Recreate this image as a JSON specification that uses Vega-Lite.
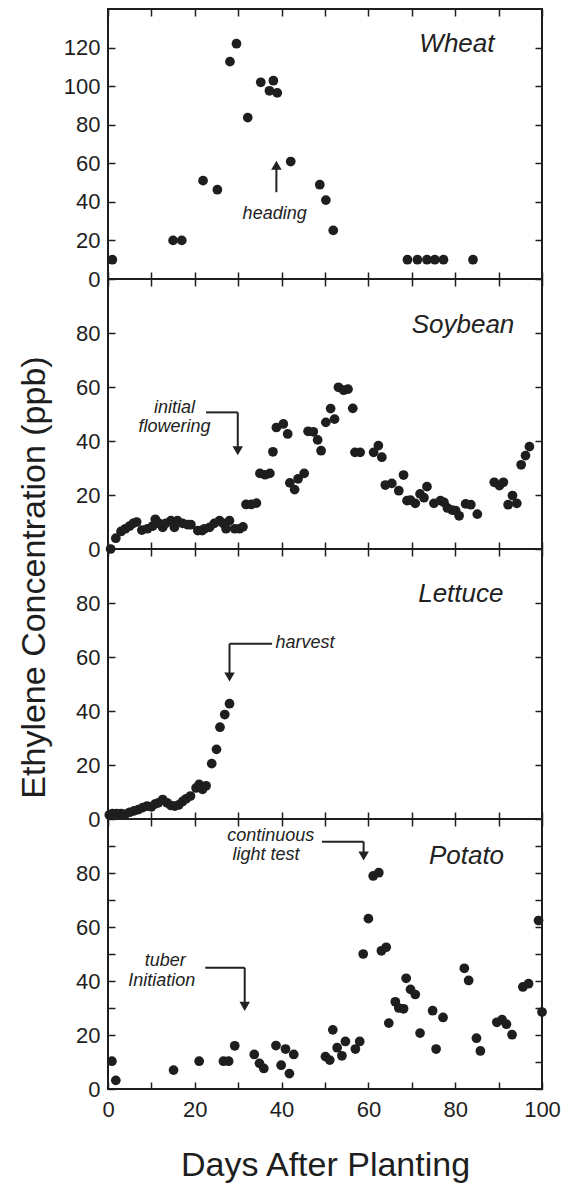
{
  "$schema": "https://vega.github.io/schema/vega-lite/v6.json",
  "background": "white",
  "padding": {"left": 15, "top": 7, "right": 5, "bottom": 5},
  "spacing": 0,
  "bounds": "flush",
  "datasets": {
    "pts": [
      {"crop": "Wheat", "day": 1, "ppb": 10}, {"crop": "Wheat", "day": 15, "ppb": 20}, {"crop": "Wheat", "day": 17, "ppb": 20},
      {"crop": "Wheat", "day": 21.9, "ppb": 51}, {"crop": "Wheat", "day": 25.2, "ppb": 46.3}, {"crop": "Wheat", "day": 28.1, "ppb": 112.7},
      {"crop": "Wheat", "day": 29.6, "ppb": 122}, {"crop": "Wheat", "day": 32.2, "ppb": 83.7}, {"crop": "Wheat", "day": 35.2, "ppb": 102},
      {"crop": "Wheat", "day": 37.2, "ppb": 97.6}, {"crop": "Wheat", "day": 38.1, "ppb": 102.8}, {"crop": "Wheat", "day": 39, "ppb": 96.5},
      {"crop": "Wheat", "day": 42.1, "ppb": 60.9}, {"crop": "Wheat", "day": 48.8, "ppb": 48.9}, {"crop": "Wheat", "day": 50.2, "ppb": 40.9},
      {"crop": "Wheat", "day": 51.9, "ppb": 25.2}, {"crop": "Wheat", "day": 69, "ppb": 10}, {"crop": "Wheat", "day": 71.3, "ppb": 10},
      {"crop": "Wheat", "day": 73.5, "ppb": 10}, {"crop": "Wheat", "day": 75.3, "ppb": 10}, {"crop": "Wheat", "day": 77.3, "ppb": 10},
      {"crop": "Wheat", "day": 84.1, "ppb": 10},
      {"crop": "Soybean", "day": 0.6, "ppb": 0}, {"crop": "Soybean", "day": 1.8, "ppb": 4}, {"crop": "Soybean", "day": 3.0, "ppb": 6.5},
      {"crop": "Soybean", "day": 4.0, "ppb": 7.5}, {"crop": "Soybean", "day": 5.0, "ppb": 8.5}, {"crop": "Soybean", "day": 5.8, "ppb": 9.5},
      {"crop": "Soybean", "day": 6.6, "ppb": 10}, {"crop": "Soybean", "day": 7.8, "ppb": 7}, {"crop": "Soybean", "day": 9.1, "ppb": 7.5},
      {"crop": "Soybean", "day": 10.3, "ppb": 8.5}, {"crop": "Soybean", "day": 10.9, "ppb": 11}, {"crop": "Soybean", "day": 11.8, "ppb": 9.5},
      {"crop": "Soybean", "day": 12.6, "ppb": 8}, {"crop": "Soybean", "day": 13.3, "ppb": 9.5}, {"crop": "Soybean", "day": 14.5, "ppb": 10.5},
      {"crop": "Soybean", "day": 15.3, "ppb": 8}, {"crop": "Soybean", "day": 16.0, "ppb": 10.5}, {"crop": "Soybean", "day": 17.2, "ppb": 9.5},
      {"crop": "Soybean", "day": 18.4, "ppb": 9}, {"crop": "Soybean", "day": 19.1, "ppb": 9}, {"crop": "Soybean", "day": 20.7, "ppb": 6.8},
      {"crop": "Soybean", "day": 21.7, "ppb": 6.8}, {"crop": "Soybean", "day": 22.2, "ppb": 7.5}, {"crop": "Soybean", "day": 23.4, "ppb": 8},
      {"crop": "Soybean", "day": 24.5, "ppb": 9.5}, {"crop": "Soybean", "day": 25.7, "ppb": 10.5}, {"crop": "Soybean", "day": 26.5, "ppb": 9.5},
      {"crop": "Soybean", "day": 27.2, "ppb": 7.5}, {"crop": "Soybean", "day": 28.0, "ppb": 10.5}, {"crop": "Soybean", "day": 29.2, "ppb": 7.5},
      {"crop": "Soybean", "day": 30.3, "ppb": 7.5}, {"crop": "Soybean", "day": 31.1, "ppb": 8.2}, {"crop": "Soybean", "day": 31.8, "ppb": 16.5},
      {"crop": "Soybean", "day": 33.0, "ppb": 16.5}, {"crop": "Soybean", "day": 34.2, "ppb": 17}, {"crop": "Soybean", "day": 35.0, "ppb": 28},
      {"crop": "Soybean", "day": 36.2, "ppb": 27.5}, {"crop": "Soybean", "day": 37.3, "ppb": 28}, {"crop": "Soybean", "day": 38.0, "ppb": 36},
      {"crop": "Soybean", "day": 38.8, "ppb": 45}, {"crop": "Soybean", "day": 40.4, "ppb": 46.3}, {"crop": "Soybean", "day": 41.4, "ppb": 42.6},
      {"crop": "Soybean", "day": 41.9, "ppb": 24.5}, {"crop": "Soybean", "day": 43.0, "ppb": 22}, {"crop": "Soybean", "day": 43.8, "ppb": 26},
      {"crop": "Soybean", "day": 45.2, "ppb": 28}, {"crop": "Soybean", "day": 46.1, "ppb": 43.6}, {"crop": "Soybean", "day": 47.3, "ppb": 43.4},
      {"crop": "Soybean", "day": 48.3, "ppb": 40.4}, {"crop": "Soybean", "day": 49.1, "ppb": 36.4}, {"crop": "Soybean", "day": 50.2, "ppb": 46.9},
      {"crop": "Soybean", "day": 51.3, "ppb": 52}, {"crop": "Soybean", "day": 52.2, "ppb": 48.1}, {"crop": "Soybean", "day": 53.1, "ppb": 59.9},
      {"crop": "Soybean", "day": 54.3, "ppb": 58.8}, {"crop": "Soybean", "day": 55.3, "ppb": 59.2}, {"crop": "Soybean", "day": 56.4, "ppb": 52.1},
      {"crop": "Soybean", "day": 56.9, "ppb": 35.8}, {"crop": "Soybean", "day": 58.1, "ppb": 35.8}, {"crop": "Soybean", "day": 61.2, "ppb": 35.8},
      {"crop": "Soybean", "day": 62.3, "ppb": 38.3}, {"crop": "Soybean", "day": 63.1, "ppb": 34}, {"crop": "Soybean", "day": 63.9, "ppb": 23.7},
      {"crop": "Soybean", "day": 65.4, "ppb": 24.3}, {"crop": "Soybean", "day": 67.0, "ppb": 21.6}, {"crop": "Soybean", "day": 68.1, "ppb": 27.4},
      {"crop": "Soybean", "day": 68.9, "ppb": 17.9}, {"crop": "Soybean", "day": 69.7, "ppb": 18.1}, {"crop": "Soybean", "day": 70.8, "ppb": 16.9},
      {"crop": "Soybean", "day": 71.9, "ppb": 20.4}, {"crop": "Soybean", "day": 72.8, "ppb": 19}, {"crop": "Soybean", "day": 73.5, "ppb": 23.1},
      {"crop": "Soybean", "day": 75.1, "ppb": 16.9}, {"crop": "Soybean", "day": 76.6, "ppb": 17.9}, {"crop": "Soybean", "day": 77.4, "ppb": 17.3},
      {"crop": "Soybean", "day": 78.2, "ppb": 15.2}, {"crop": "Soybean", "day": 79.3, "ppb": 14.4}, {"crop": "Soybean", "day": 80.1, "ppb": 14.2},
      {"crop": "Soybean", "day": 80.9, "ppb": 12.3}, {"crop": "Soybean", "day": 82.4, "ppb": 16.7}, {"crop": "Soybean", "day": 83.6, "ppb": 16.4},
      {"crop": "Soybean", "day": 85.1, "ppb": 12.9}, {"crop": "Soybean", "day": 89.0, "ppb": 24.7}, {"crop": "Soybean", "day": 90.2, "ppb": 23.5},
      {"crop": "Soybean", "day": 91.1, "ppb": 24.7}, {"crop": "Soybean", "day": 92.2, "ppb": 16.4}, {"crop": "Soybean", "day": 93.2, "ppb": 19.8},
      {"crop": "Soybean", "day": 94.2, "ppb": 16.9}, {"crop": "Soybean", "day": 95.2, "ppb": 31.2}, {"crop": "Soybean", "day": 96.2, "ppb": 34.6},
      {"crop": "Soybean", "day": 97.1, "ppb": 37.9},
      {"crop": "Lettuce", "day": 0.3, "ppb": 1.5}, {"crop": "Lettuce", "day": 1.0, "ppb": 2}, {"crop": "Lettuce", "day": 2.0, "ppb": 2},
      {"crop": "Lettuce", "day": 3.0, "ppb": 2}, {"crop": "Lettuce", "day": 4.0, "ppb": 1.8}, {"crop": "Lettuce", "day": 5.0, "ppb": 2.5},
      {"crop": "Lettuce", "day": 6.0, "ppb": 3}, {"crop": "Lettuce", "day": 7.0, "ppb": 3.5}, {"crop": "Lettuce", "day": 8.0, "ppb": 4.2},
      {"crop": "Lettuce", "day": 9.0, "ppb": 4.8}, {"crop": "Lettuce", "day": 10.0, "ppb": 4.5}, {"crop": "Lettuce", "day": 10.8, "ppb": 5.5},
      {"crop": "Lettuce", "day": 11.6, "ppb": 6}, {"crop": "Lettuce", "day": 12.6, "ppb": 7.2}, {"crop": "Lettuce", "day": 13.6, "ppb": 6},
      {"crop": "Lettuce", "day": 14.5, "ppb": 5}, {"crop": "Lettuce", "day": 15.4, "ppb": 4.8}, {"crop": "Lettuce", "day": 16.3, "ppb": 5.2},
      {"crop": "Lettuce", "day": 17.2, "ppb": 6.5}, {"crop": "Lettuce", "day": 18.0, "ppb": 7.5}, {"crop": "Lettuce", "day": 19.0, "ppb": 8.5},
      {"crop": "Lettuce", "day": 20.3, "ppb": 11.5}, {"crop": "Lettuce", "day": 21.0, "ppb": 12.8}, {"crop": "Lettuce", "day": 21.8, "ppb": 11},
      {"crop": "Lettuce", "day": 22.6, "ppb": 12.3}, {"crop": "Lettuce", "day": 23.9, "ppb": 20.5}, {"crop": "Lettuce", "day": 25.0, "ppb": 25.8},
      {"crop": "Lettuce", "day": 25.8, "ppb": 34}, {"crop": "Lettuce", "day": 26.9, "ppb": 38.7}, {"crop": "Lettuce", "day": 28.0, "ppb": 42.7},
      {"crop": "Potato", "day": 0.9, "ppb": 10.3}, {"crop": "Potato", "day": 1.8, "ppb": 3.2}, {"crop": "Potato", "day": 15.1, "ppb": 7},
      {"crop": "Potato", "day": 21, "ppb": 10.3}, {"crop": "Potato", "day": 26.6, "ppb": 10.3}, {"crop": "Potato", "day": 27.8, "ppb": 10.3},
      {"crop": "Potato", "day": 29.2, "ppb": 16}, {"crop": "Potato", "day": 33.7, "ppb": 12.8}, {"crop": "Potato", "day": 34.9, "ppb": 9.5},
      {"crop": "Potato", "day": 35.9, "ppb": 7.6}, {"crop": "Potato", "day": 38.7, "ppb": 16.1}, {"crop": "Potato", "day": 39.9, "ppb": 8.8},
      {"crop": "Potato", "day": 40.9, "ppb": 14.8}, {"crop": "Potato", "day": 41.8, "ppb": 5.7}, {"crop": "Potato", "day": 42.8, "ppb": 12.8},
      {"crop": "Potato", "day": 50.1, "ppb": 12}, {"crop": "Potato", "day": 51.1, "ppb": 10.7}, {"crop": "Potato", "day": 51.8, "ppb": 21.9},
      {"crop": "Potato", "day": 52.8, "ppb": 15.3}, {"crop": "Potato", "day": 53.9, "ppb": 12.3}, {"crop": "Potato", "day": 54.7, "ppb": 17.6},
      {"crop": "Potato", "day": 57, "ppb": 14.8}, {"crop": "Potato", "day": 58, "ppb": 17.6}, {"crop": "Potato", "day": 58.8, "ppb": 50},
      {"crop": "Potato", "day": 60, "ppb": 63.1}, {"crop": "Potato", "day": 61.1, "ppb": 78.9}, {"crop": "Potato", "day": 62.4, "ppb": 80.1},
      {"crop": "Potato", "day": 63, "ppb": 51.2}, {"crop": "Potato", "day": 64.1, "ppb": 52.5}, {"crop": "Potato", "day": 64.7, "ppb": 24.4},
      {"crop": "Potato", "day": 66.2, "ppb": 32.3}, {"crop": "Potato", "day": 67, "ppb": 30}, {"crop": "Potato", "day": 68.1, "ppb": 29.7},
      {"crop": "Potato", "day": 68.7, "ppb": 41}, {"crop": "Potato", "day": 69.7, "ppb": 36.9}, {"crop": "Potato", "day": 70.8, "ppb": 35},
      {"crop": "Potato", "day": 71.9, "ppb": 20.7}, {"crop": "Potato", "day": 74.8, "ppb": 29}, {"crop": "Potato", "day": 75.6, "ppb": 14.8},
      {"crop": "Potato", "day": 77.2, "ppb": 26.5}, {"crop": "Potato", "day": 82.1, "ppb": 44.7}, {"crop": "Potato", "day": 83.1, "ppb": 40.2},
      {"crop": "Potato", "day": 84.9, "ppb": 18.8}, {"crop": "Potato", "day": 85.8, "ppb": 14.1}, {"crop": "Potato", "day": 89.6, "ppb": 24.7},
      {"crop": "Potato", "day": 90.8, "ppb": 25.7}, {"crop": "Potato", "day": 91.8, "ppb": 24}, {"crop": "Potato", "day": 93.1, "ppb": 20.1},
      {"crop": "Potato", "day": 95.6, "ppb": 37.8}, {"crop": "Potato", "day": 96.9, "ppb": 39}, {"crop": "Potato", "day": 99.2, "ppb": 62.4},
      {"crop": "Potato", "day": 100, "ppb": 28.5}
    ],
    "names": [
      {"crop": "Wheat", "day": 80.4, "ppb": 117.6, "text": "Wheat"},
      {"crop": "Soybean", "day": 81.8, "ppb": 79.9, "text": "Soybean"},
      {"crop": "Lettuce", "day": 81.3, "ppb": 80.2, "text": "Lettuce"},
      {"crop": "Potato", "day": 82.6, "ppb": 83.5, "text": "Potato"}
    ],
    "notes": [
      {"crop": "Wheat", "day": 38.4, "ppb": 31, "text": "heading"},
      {"crop": "Soybean", "day": 15.3, "ppb": 50.3, "text": "initial"},
      {"crop": "Soybean", "day": 15.3, "ppb": 43.2, "text": "flowering"},
      {"crop": "Lettuce", "day": 45.4, "ppb": 63.5, "text": "harvest"},
      {"crop": "Potato", "day": 37.5, "ppb": 91.8, "text": "continuous"},
      {"crop": "Potato", "day": 36.4, "ppb": 84.7, "text": "light test"},
      {"crop": "Potato", "day": 13.2, "ppb": 45.6, "text": "tuber"},
      {"crop": "Potato", "day": 12.4, "ppb": 38.1, "text": "Initiation"}
    ],
    "arrows": [
      {"crop": "Wheat", "day": 38.8, "ppb": 45, "day2": 38.8, "ppb2": 58},
      {"crop": "Soybean", "day": 22.6, "ppb": 50.6, "day2": 29.9, "ppb2": 50.6},
      {"crop": "Soybean", "day": 29.9, "ppb": 50.6, "day2": 29.9, "ppb2": 37},
      {"crop": "Lettuce", "day": 28, "ppb": 64.9, "day2": 37.8, "ppb2": 64.9},
      {"crop": "Lettuce", "day": 28, "ppb": 64.9, "day2": 28, "ppb2": 53},
      {"crop": "Potato", "day": 49.3, "ppb": 91.6, "day2": 58.9, "ppb2": 91.6},
      {"crop": "Potato", "day": 58.9, "ppb": 91.6, "day2": 58.9, "ppb2": 87},
      {"crop": "Potato", "day": 22.4, "ppb": 44.9, "day2": 31.5, "ppb2": 44.9},
      {"crop": "Potato", "day": 31.5, "ppb": 44.9, "day2": 31.5, "ppb2": 31}
    ],
    "heads": [
      {"crop": "Wheat", "day": 38.8, "ppb": 59, "dir": "up"},
      {"crop": "Soybean", "day": 29.9, "ppb": 36.4, "dir": "down"},
      {"crop": "Lettuce", "day": 28, "ppb": 52.6, "dir": "down"},
      {"crop": "Potato", "day": 58.9, "ppb": 86.3, "dir": "down"},
      {"crop": "Potato", "day": 31.5, "ppb": 30.6, "dir": "down"}
    ]
  },
  "vconcat": [
    {
      "width": 434, "height": 270,
      "resolve": {"axis": {"x": "independent", "y": "independent"}},
      "layer": [
        {"data": {"name": "pts"}, "transform": [{"filter": "datum.crop === 'Wheat'"}],
         "mark": {"type": "point", "filled": true, "size": 95, "color": "#1e1e1e", "opacity": 1},
         "encoding": {
           "x": {"field": "day", "type": "quantitative", "scale": {"domain": [0, 100], "nice": false}, "axis": {"orient": "bottom", "values": [0,10,20,30,40,50,60,70,80,90,100], "labels": false, "title": null}},
           "y": {"field": "ppb", "type": "quantitative", "scale": {"domain": [0, 140], "nice": false}, "axis": {"orient": "left", "values": [0,20,40,60,80,100,120], "title": null}}}},
        {"data": {"name": "names"}, "transform": [{"filter": "datum.crop === 'Wheat'"}],
         "mark": {"type": "text", "fontStyle": "italic", "fontSize": 26, "color": "#222", "align": "center", "baseline": "alphabetic"},
         "encoding": {
           "x": {"field": "day", "type": "quantitative", "scale": {"domain": [0, 100], "nice": false}, "axis": {"orient": "top", "values": [0,10,20,30,40,50,60,70,80,90,100], "labels": false, "title": null}},
           "y": {"field": "ppb", "type": "quantitative", "scale": {"domain": [0, 140], "nice": false}, "axis": {"orient": "right", "values": [0,20,40,60,80,100,120], "labels": false, "title": null}},
           "text": {"field": "text"}}},
        {"data": {"name": "notes"}, "transform": [{"filter": "datum.crop === 'Wheat'"}],
         "mark": {"type": "text", "fontStyle": "italic", "fontSize": 18, "color": "#222", "align": "center", "baseline": "alphabetic"},
         "encoding": {
           "x": {"field": "day", "type": "quantitative", "scale": {"domain": [0, 100], "nice": false}, "axis": null},
           "y": {"field": "ppb", "type": "quantitative", "scale": {"domain": [0, 140], "nice": false}, "axis": null},
           "text": {"field": "text"}}},
        {"data": {"name": "arrows"}, "transform": [{"filter": "datum.crop === 'Wheat'"}],
         "mark": {"type": "rule", "color": "#222", "strokeWidth": 2},
         "encoding": {
           "x": {"field": "day", "type": "quantitative", "scale": {"domain": [0, 100], "nice": false}, "axis": null},
           "y": {"field": "ppb", "type": "quantitative", "scale": {"domain": [0, 140], "nice": false}, "axis": null},
           "x2": {"field": "day2"}, "y2": {"field": "ppb2"}}},
        {"data": {"name": "heads"}, "transform": [{"filter": "datum.crop === 'Wheat'"}],
         "mark": {"type": "point", "filled": true, "size": 110, "color": "#222", "opacity": 1, "shape": "triangle-up"},
         "encoding": {
           "x": {"field": "day", "type": "quantitative", "scale": {"domain": [0, 100], "nice": false}, "axis": null},
           "y": {"field": "ppb", "type": "quantitative", "scale": {"domain": [0, 140], "nice": false}, "axis": null}}}
      ]
    },
    {
      "width": 434, "height": 270,
      "resolve": {"axis": {"x": "independent", "y": "independent"}},
      "layer": [
        {"data": {"name": "pts"}, "transform": [{"filter": "datum.crop === 'Soybean'"}],
         "mark": {"type": "point", "filled": true, "size": 95, "color": "#1e1e1e", "opacity": 1},
         "encoding": {
           "x": {"field": "day", "type": "quantitative", "scale": {"domain": [0, 100], "nice": false}, "axis": {"orient": "bottom", "values": [0,10,20,30,40,50,60,70,80,90,100], "labels": false, "title": null}},
           "y": {"field": "ppb", "type": "quantitative", "scale": {"domain": [0, 100], "nice": false}, "axis": {"orient": "left", "values": [0,20,40,60,80], "title": null}}}},
        {"data": {"name": "names"}, "transform": [{"filter": "datum.crop === 'Soybean'"}],
         "mark": {"type": "text", "fontStyle": "italic", "fontSize": 26, "color": "#222", "align": "center", "baseline": "alphabetic"},
         "encoding": {
           "x": {"field": "day", "type": "quantitative", "scale": {"domain": [0, 100], "nice": false}, "axis": {"orient": "top", "values": [0,10,20,30,40,50,60,70,80,90,100], "labels": false, "title": null}},
           "y": {"field": "ppb", "type": "quantitative", "scale": {"domain": [0, 100], "nice": false}, "axis": {"orient": "right", "values": [0,20,40,60,80], "labels": false, "title": null}},
           "text": {"field": "text"}}},
        {"data": {"name": "notes"}, "transform": [{"filter": "datum.crop === 'Soybean'"}],
         "mark": {"type": "text", "fontStyle": "italic", "fontSize": 18, "color": "#222", "align": "center", "baseline": "alphabetic"},
         "encoding": {
           "x": {"field": "day", "type": "quantitative", "scale": {"domain": [0, 100], "nice": false}, "axis": null},
           "y": {"field": "ppb", "type": "quantitative", "scale": {"domain": [0, 100], "nice": false}, "axis": null},
           "text": {"field": "text"}}},
        {"data": {"name": "arrows"}, "transform": [{"filter": "datum.crop === 'Soybean'"}],
         "mark": {"type": "rule", "color": "#222", "strokeWidth": 2},
         "encoding": {
           "x": {"field": "day", "type": "quantitative", "scale": {"domain": [0, 100], "nice": false}, "axis": null},
           "y": {"field": "ppb", "type": "quantitative", "scale": {"domain": [0, 100], "nice": false}, "axis": null},
           "x2": {"field": "day2"}, "y2": {"field": "ppb2"}}},
        {"data": {"name": "heads"}, "transform": [{"filter": "datum.crop === 'Soybean'"}],
         "mark": {"type": "point", "filled": true, "size": 110, "color": "#222", "opacity": 1, "shape": "triangle-down"},
         "encoding": {
           "x": {"field": "day", "type": "quantitative", "scale": {"domain": [0, 100], "nice": false}, "axis": null},
           "y": {"field": "ppb", "type": "quantitative", "scale": {"domain": [0, 100], "nice": false}, "axis": null}}}
      ]
    },
    {
      "width": 434, "height": 270,
      "resolve": {"axis": {"x": "independent", "y": "independent"}},
      "layer": [
        {"data": {"name": "pts"}, "transform": [{"filter": "datum.crop === 'Lettuce'"}],
         "mark": {"type": "point", "filled": true, "size": 95, "color": "#1e1e1e", "opacity": 1},
         "encoding": {
           "x": {"field": "day", "type": "quantitative", "scale": {"domain": [0, 100], "nice": false}, "axis": {"orient": "bottom", "values": [0,10,20,30,40,50,60,70,80,90,100], "labels": false, "title": null}},
           "y": {"field": "ppb", "type": "quantitative", "scale": {"domain": [0, 100], "nice": false}, "axis": {"orient": "left", "values": [0,20,40,60,80], "title": "Ethylene Concentration (ppb)", "titleX": -64, "titleY": 28, "titleBaseline": "alphabetic", "titleAngle": -90, "titleAlign": "center"}}}},
        {"data": {"name": "names"}, "transform": [{"filter": "datum.crop === 'Lettuce'"}],
         "mark": {"type": "text", "fontStyle": "italic", "fontSize": 26, "color": "#222", "align": "center", "baseline": "alphabetic"},
         "encoding": {
           "x": {"field": "day", "type": "quantitative", "scale": {"domain": [0, 100], "nice": false}, "axis": {"orient": "top", "values": [0,10,20,30,40,50,60,70,80,90,100], "labels": false, "title": null}},
           "y": {"field": "ppb", "type": "quantitative", "scale": {"domain": [0, 100], "nice": false}, "axis": {"orient": "right", "values": [0,20,40,60,80], "labels": false, "title": null}},
           "text": {"field": "text"}}},
        {"data": {"name": "notes"}, "transform": [{"filter": "datum.crop === 'Lettuce'"}],
         "mark": {"type": "text", "fontStyle": "italic", "fontSize": 18, "color": "#222", "align": "center", "baseline": "alphabetic"},
         "encoding": {
           "x": {"field": "day", "type": "quantitative", "scale": {"domain": [0, 100], "nice": false}, "axis": null},
           "y": {"field": "ppb", "type": "quantitative", "scale": {"domain": [0, 100], "nice": false}, "axis": null},
           "text": {"field": "text"}}},
        {"data": {"name": "arrows"}, "transform": [{"filter": "datum.crop === 'Lettuce'"}],
         "mark": {"type": "rule", "color": "#222", "strokeWidth": 2},
         "encoding": {
           "x": {"field": "day", "type": "quantitative", "scale": {"domain": [0, 100], "nice": false}, "axis": null},
           "y": {"field": "ppb", "type": "quantitative", "scale": {"domain": [0, 100], "nice": false}, "axis": null},
           "x2": {"field": "day2"}, "y2": {"field": "ppb2"}}},
        {"data": {"name": "heads"}, "transform": [{"filter": "datum.crop === 'Lettuce'"}],
         "mark": {"type": "point", "filled": true, "size": 110, "color": "#222", "opacity": 1, "shape": "triangle-down"},
         "encoding": {
           "x": {"field": "day", "type": "quantitative", "scale": {"domain": [0, 100], "nice": false}, "axis": null},
           "y": {"field": "ppb", "type": "quantitative", "scale": {"domain": [0, 100], "nice": false}, "axis": null}}}
      ]
    },
    {
      "width": 434, "height": 270,
      "resolve": {"axis": {"x": "independent", "y": "independent"}},
      "layer": [
        {"data": {"name": "pts"}, "transform": [{"filter": "datum.crop === 'Potato'"}],
         "mark": {"type": "point", "filled": true, "size": 95, "color": "#1e1e1e", "opacity": 1},
         "encoding": {
           "x": {"field": "day", "type": "quantitative", "scale": {"domain": [0, 100], "nice": false}, "axis": {"orient": "bottom", "values": [0,10,20,30,40,50,60,70,80,90,100], "labelExpr": "datum.value % 20 === 0 ? datum.label : ''", "title": "Days After Planting", "titlePadding": 28}},
           "y": {"field": "ppb", "type": "quantitative", "scale": {"domain": [0, 100], "nice": false}, "axis": {"orient": "left", "values": [0,10,20,30,40,50,60,70,80,90], "labelExpr": "datum.value % 20 === 0 ? datum.label : ''", "title": null}}}},
        {"data": {"name": "names"}, "transform": [{"filter": "datum.crop === 'Potato'"}],
         "mark": {"type": "text", "fontStyle": "italic", "fontSize": 26, "color": "#222", "align": "center", "baseline": "alphabetic"},
         "encoding": {
           "x": {"field": "day", "type": "quantitative", "scale": {"domain": [0, 100], "nice": false}, "axis": {"orient": "top", "values": [0,10,20,30,40,50,60,70,80,90,100], "labels": false, "title": null}},
           "y": {"field": "ppb", "type": "quantitative", "scale": {"domain": [0, 100], "nice": false}, "axis": {"orient": "right", "values": [0,10,20,30,40,50,60,70,80,90], "labels": false, "title": null}},
           "text": {"field": "text"}}},
        {"data": {"name": "notes"}, "transform": [{"filter": "datum.crop === 'Potato'"}],
         "mark": {"type": "text", "fontStyle": "italic", "fontSize": 18, "color": "#222", "align": "center", "baseline": "alphabetic"},
         "encoding": {
           "x": {"field": "day", "type": "quantitative", "scale": {"domain": [0, 100], "nice": false}, "axis": null},
           "y": {"field": "ppb", "type": "quantitative", "scale": {"domain": [0, 100], "nice": false}, "axis": null},
           "text": {"field": "text"}}},
        {"data": {"name": "arrows"}, "transform": [{"filter": "datum.crop === 'Potato'"}],
         "mark": {"type": "rule", "color": "#222", "strokeWidth": 2},
         "encoding": {
           "x": {"field": "day", "type": "quantitative", "scale": {"domain": [0, 100], "nice": false}, "axis": null},
           "y": {"field": "ppb", "type": "quantitative", "scale": {"domain": [0, 100], "nice": false}, "axis": null},
           "x2": {"field": "day2"}, "y2": {"field": "ppb2"}}},
        {"data": {"name": "heads"}, "transform": [{"filter": "datum.crop === 'Potato'"}],
         "mark": {"type": "point", "filled": true, "size": 110, "color": "#222", "opacity": 1, "shape": "triangle-down"},
         "encoding": {
           "x": {"field": "day", "type": "quantitative", "scale": {"domain": [0, 100], "nice": false}, "axis": null},
           "y": {"field": "ppb", "type": "quantitative", "scale": {"domain": [0, 100], "nice": false}, "axis": null}}}
      ]
    }
  ],
  "config": {
    "font": "Liberation Sans",
    "view": {"stroke": "#1e1e1e", "strokeWidth": 2},
    "axis": {
      "domain": false, "grid": false,
      "tickColor": "#1e1e1e", "tickWidth": 1.5, "tickSize": -7,
      "labelFont": "Liberation Sans", "labelFontSize": 22, "labelColor": "#1e1e1e",
      "labelPadding": 15, "labelOverlap": false, "labelFlush": false,
      "titleFont": "Liberation Sans", "titleFontSize": 34, "titleFontWeight": "normal", "titleColor": "#1e1e1e"
    },
    "axisX": {"labelPadding": 17},
    "text": {"font": "Liberation Sans"}
  }
}
